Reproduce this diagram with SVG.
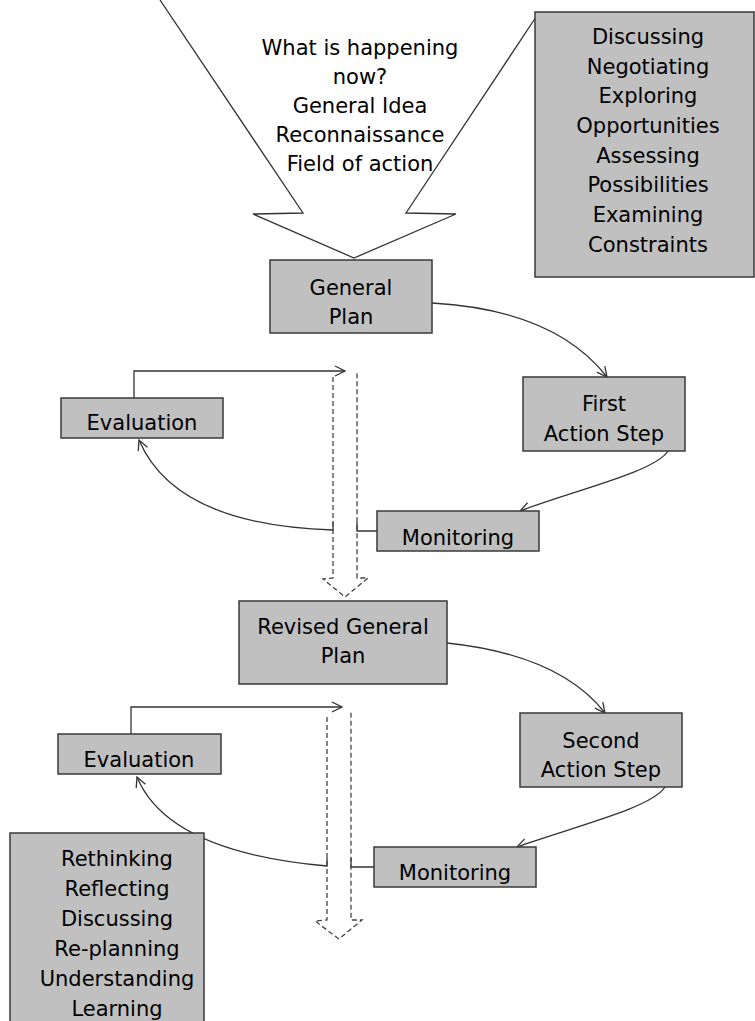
<svg xmlns="http://www.w3.org/2000/svg" width="755" height="1021" viewBox="0 0 755 1021">
<style>
.box{fill:#c0c0c0;stroke:#3a3a3a;stroke-width:1.5}
.t{font-family:"DejaVu Sans",Verdana,sans-serif;font-size:21px;fill:#000;text-anchor:middle}
.ln{fill:none;stroke:#333;stroke-width:1.3}
.dash{fill:none;stroke:#444;stroke-width:1.3;stroke-dasharray:5 3}
</style>
<defs>
<marker id="arr" viewBox="0 0 12 12" refX="11" refY="6" markerWidth="12" markerHeight="12" markerUnits="userSpaceOnUse" orient="auto">
<path d="M1,1 L11,6 L1,11" fill="none" stroke="#333" stroke-width="1.3"/>
</marker>
</defs>
<g id="connectors">
<polyline class="ln" points="160,0 303,213 253,214 354,258 456,214 406,213 536,17"/>
<path class="ln" d="M432,303 Q555,310 607,377" marker-end="url(#arr)"/>
<path class="ln" d="M668,451 C655,472 575,490 520,511" marker-end="url(#arr)"/>
<path class="ln" d="M377,531 H357 V522"/>
<path class="ln" d="M333,522 V530 Q175,525 139,440" marker-end="url(#arr)"/>
<path class="ln" d="M134,398 V371 H345" marker-end="url(#arr)"/>
<path class="dash" d="M333,377 V578 L323,579 L345,597 L368,578 L357,578 V372"/>
<path class="ln" d="M447,643 Q560,655 605,713" marker-end="url(#arr)"/>
<path class="ln" d="M665,787 C652,808 572,827 517,847" marker-end="url(#arr)"/>
<path class="ln" d="M374,867 H351 V858"/>
<path class="ln" d="M327,858 V866 Q168,852 137,777" marker-end="url(#arr)"/>
<path class="ln" d="M131,734 V707 H342" marker-end="url(#arr)"/>
<path class="dash" d="M327,717 V920 L315,921 L339,939 L362,920 L351,920 V712"/>
</g>
<g id="intro">
<text class="t" x="360" y="55">What is happening</text>
<text class="t" x="360" y="84">now?</text>
<text class="t" x="360" y="113">General Idea</text>
<text class="t" x="360" y="142">Reconnaissance</text>
<text class="t" x="360" y="171">Field of action</text>
</g>
<g id="activities">
<rect class="box" x="535" y="12" width="219" height="265"/>
<text class="t" x="648" y="44">Discussing</text>
<text class="t" x="648" y="74">Negotiating</text>
<text class="t" x="648" y="103">Exploring</text>
<text class="t" x="648" y="133">Opportunities</text>
<text class="t" x="648" y="163">Assessing</text>
<text class="t" x="648" y="192">Possibilities</text>
<text class="t" x="648" y="222">Examining</text>
<text class="t" x="648" y="252">Constraints</text>
</g>
<g id="general-plan">
<rect class="box" x="270" y="260" width="162" height="73"/>
<text class="t" x="351" y="295">General</text>
<text class="t" x="351" y="324">Plan</text>
</g>
<g id="first-action">
<rect class="box" x="523" y="377" width="162" height="74"/>
<text class="t" x="604" y="411">First</text>
<text class="t" x="604" y="441">Action Step</text>
</g>
<g id="monitoring-1">
<rect class="box" x="377" y="511" width="162" height="40"/>
<text class="t" x="458" y="545">Monitoring</text>
</g>
<g id="evaluation-1">
<rect class="box" x="61" y="398" width="162" height="40"/>
<text class="t" x="142" y="430">Evaluation</text>
</g>
<g id="revised-plan">
<rect class="box" x="239" y="601" width="208" height="83"/>
<text class="t" x="343" y="634">Revised General</text>
<text class="t" x="343" y="663">Plan</text>
</g>
<g id="second-action">
<rect class="box" x="520" y="713" width="162" height="74"/>
<text class="t" x="601" y="748">Second</text>
<text class="t" x="601" y="777">Action Step</text>
</g>
<g id="monitoring-2">
<rect class="box" x="374" y="847" width="162" height="40"/>
<text class="t" x="455" y="880">Monitoring</text>
</g>
<g id="evaluation-2">
<rect class="box" x="58" y="734" width="163" height="40"/>
<text class="t" x="139" y="767">Evaluation</text>
</g>
<g id="reflection">
<rect class="box" x="10" y="833" width="194" height="200"/>
<text class="t" x="117" y="866">Rethinking</text>
<text class="t" x="117" y="896">Reflecting</text>
<text class="t" x="117" y="926">Discussing</text>
<text class="t" x="117" y="956">Re-planning</text>
<text class="t" x="117" y="986">Understanding</text>
<text class="t" x="117" y="1016">Learning</text>
</g>
</svg>
